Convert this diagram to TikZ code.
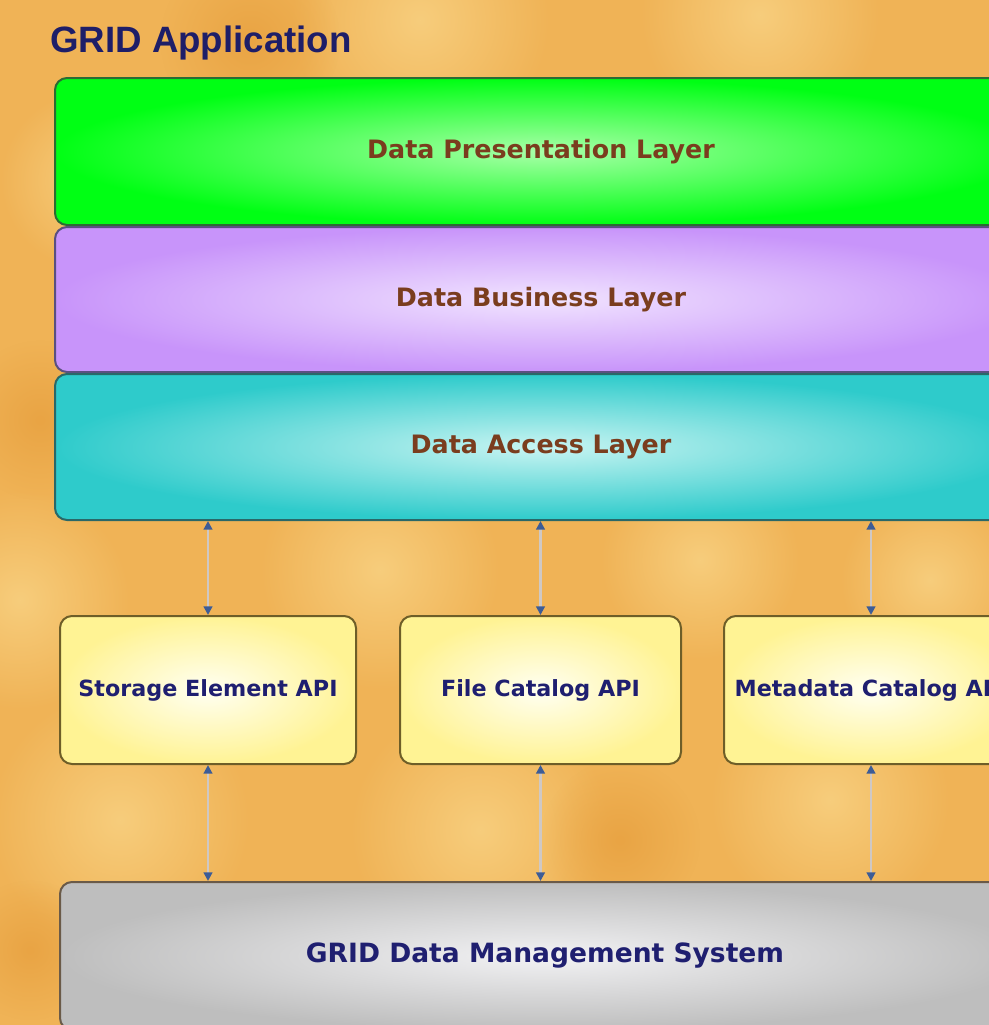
\documentclass[tikz,border=0pt]{standalone}
\usepackage{fontspec}
\setmainfont{Liberation Sans}
\newfontfamily\boxfont{DejaVu Sans}
\usetikzlibrary{arrows.meta,fadings}
\definecolor{bg}{HTML}{F0B356}
\definecolor{bglight}{HTML}{F7CD7C}
\definecolor{bgdark}{HTML}{E9A444}
\definecolor{titlecol}{HTML}{1E1E68}
\definecolor{layertxt}{HTML}{7A3D1E}
\definecolor{navytxt}{HTML}{1F1F70}
\definecolor{greenin}{HTML}{A8FFA8}
\definecolor{greenout}{HTML}{00FF14}
\definecolor{greenln}{HTML}{2C6A34}
\definecolor{purpin}{HTML}{F1E4FF}
\definecolor{purpout}{HTML}{C894FA}
\definecolor{purpln}{HTML}{5A5080}
\definecolor{cyanin}{HTML}{C8F4F2}
\definecolor{cyanout}{HTML}{2ECBCB}
\definecolor{cyanln}{HTML}{2A6868}
\definecolor{yelin}{HTML}{FFFFF2}
\definecolor{yelout}{HTML}{FFF394}
\definecolor{yelln}{HTML}{6E5E28}
\definecolor{grayin}{HTML}{F2F2F4}
\definecolor{grayout}{HTML}{BEBEBE}
\definecolor{grayln}{HTML}{6A5A48}
\definecolor{connline}{HTML}{CFC8C4}
\definecolor{connhead}{HTML}{3D5C96}
\tikzfading[name=blobfade, inner color=transparent!0, outer color=transparent!100]
\tikzset{
  titletext/.style={anchor=base west, inner sep=0pt, text=titlecol, font=\bfseries\fontsize{27.5pt}{30pt}\selectfont},
  layerbox/.style={rounded corners=9pt, line width=1.5pt, minimum width=729pt,
    text=layertxt, font=\boxfont\bfseries\fontsize{19pt}{22pt}\selectfont},
  apibox/.style={rounded corners=9pt, line width=1.5pt, minimum height=111pt,
    draw=yelln, inner color=yelin, outer color=yelout,
    text=navytxt, font=\boxfont\bfseries\fontsize{16.7pt}{19pt}\selectfont},
  sysbox/.style={rounded corners=9pt, line width=1.5pt, minimum width=727.5pt, minimum height=111pt,
    draw=grayln, inner color=grayin, outer color=grayout,
    text=navytxt, font=\boxfont\bfseries\fontsize{19.9pt}{22pt}\selectfont},
  conn/.style={draw=connline, line width=1.6pt,
    {Triangle[length=6.5pt,width=6.5pt,color=connhead]}-{Triangle[length=6.5pt,width=6.5pt,color=connhead]}},
  blob/.style={fill=bglight, path fading=blobfade},
  dblob/.style={fill=bgdark, path fading=blobfade}
}
\begin{document}
\begin{tikzpicture}[x=0.75pt,y=-0.75pt]
\useasboundingbox (0,0) rectangle (989,1025);
\clip (0,0) rectangle (989,1025);
\fill[bg] (0,0) rectangle (989,1025);
% background mottling
\fill[blob] (420,20) circle (130);
\fill[blob] (760,15) circle (120);
\fill[blob] (90,180) circle (90);
\fill[blob] (20,600) circle (110);
\fill[blob] (380,570) circle (120);
\fill[blob] (700,560) circle (100);
\fill[blob] (930,580) circle (90);
\fill[blob] (120,820) circle (130);
\fill[blob] (480,830) circle (130);
\fill[blob] (830,800) circle (120);
\fill[dblob] (250,40) circle (90);
\fill[dblob] (620,840) circle (80);
\fill[dblob] (30,950) circle (70);
\fill[dblob] (40,420) circle (80);
% title
\node[titletext] (title) at (50,52) {GRID Application};
% layers
\node[layerbox, draw=greenln, inner color=greenin, outer color=greenout, minimum height=110.25pt] (dpl) at (541,151.5) {Data Presentation Layer};
\node[layerbox, draw=purpln, inner color=purpin, outer color=purpout, minimum height=108.75pt] (dbl) at (541,299.5) {Data Business Layer};
\node[layerbox, draw=cyanln, inner color=cyanin, outer color=cyanout, minimum height=109.5pt] (dal) at (541,447) {Data Access Layer};
% api boxes
\node[apibox, minimum width=222pt] (se) at (208,690) {Storage Element API};
\node[apibox, minimum width=210.75pt] (fc) at (540.5,690) {File Catalog API};
\node[apibox, minimum width=220.5pt] (mc) at (871,690) {Metadata Catalog API};
% system
\node[sysbox] (dms) at (545,956) {GRID Data Management System};
% connectors
\draw[conn] (se.north |- dal.south) -- (se.north);
\draw[conn] (fc.north |- dal.south) -- (fc.north);
\draw[conn] (mc.north |- dal.south) -- (mc.north);
\draw[conn] (se.south) -- (se.south |- dms.north);
\draw[conn] (fc.south) -- (fc.south |- dms.north);
\draw[conn] (mc.south) -- (mc.south |- dms.north);
\end{tikzpicture}
\end{document}
